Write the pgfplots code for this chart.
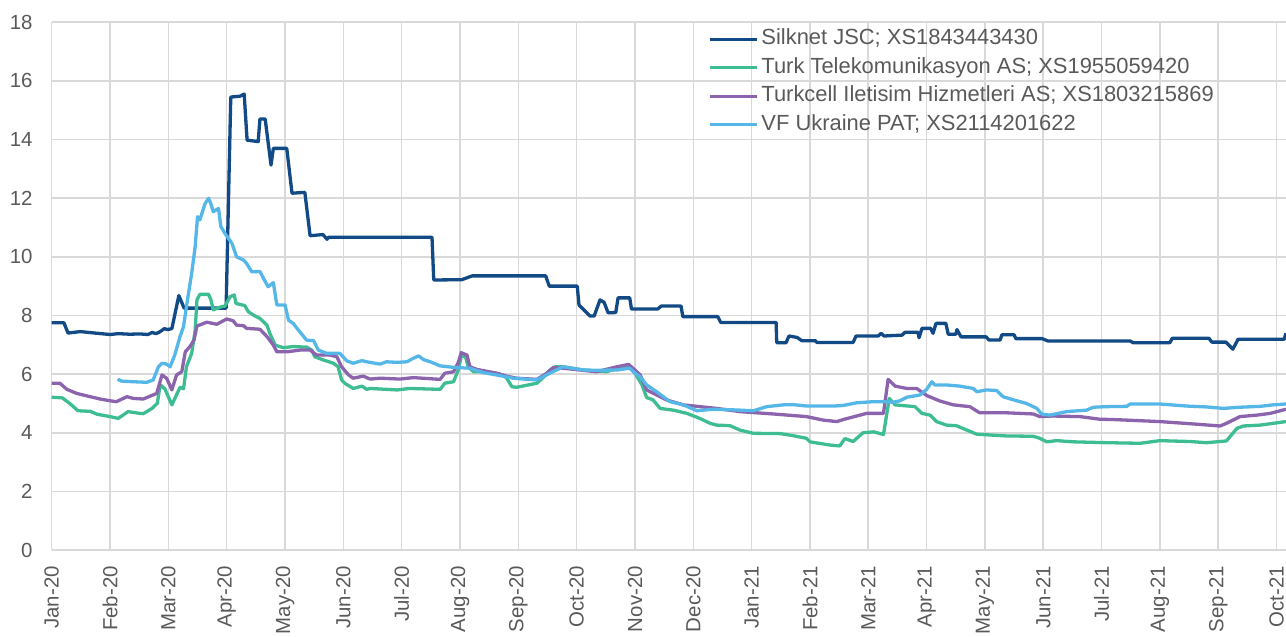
\documentclass[border=0pt]{standalone}
\usepackage{pgfplots}
\pgfplotsset{compat=1.18}
\usepackage{fontspec}
\setmainfont{Liberation Sans}
\definecolor{silk}{RGB}{18,74,134}
\definecolor{turk}{RGB}{62,189,147}
\definecolor{tcell}{RGB}{139,100,173}
\definecolor{vfu}{RGB}{85,183,232}
\definecolor{gridg}{RGB}{217,217,217}
\definecolor{txtg}{RGB}{89,89,89}
\begin{document}
\begin{tikzpicture}
\begin{axis}[
  scale only axis, width=1234.3bp, height=527.7bp,
  xmin=0, xmax=21.161, ymin=0, ymax=18,
  xtick={0,1,...,21},
  xticklabels={Jan-20,Feb-20,Mar-20,Apr-20,May-20,Jun-20,Jul-20,Aug-20,Sep-20,Oct-20,Nov-20,Dec-20,Jan-21,Feb-21,Mar-21,Apr-21,May-21,Jun-21,Jul-21,Aug-21,Sep-21,Oct-21},
  ytick={0,2,...,18},
  grid=major, major grid style={draw=gridg, line width=1.6bp},
  axis line style={draw=none}, major tick length=0pt,
  /pgf/number format/assume math mode=true,
  tick label style={font=\fontsize{20.5}{24}\selectfont, text=txtg},
  yticklabel style={anchor=east, inner xsep=19bp},
  xticklabel style={rotate=90, anchor=east, inner xsep=16bp},
  legend style={draw=none, fill=none, inner sep=0pt, at={(rel axis cs:0.5317,0.990)}, anchor=north west,
    font=\fontsize{22}{26}\selectfont, text=txtg,
    nodes={inner sep=2bp, text height=15bp, text depth=4bp}, row sep=5.5bp, column sep=1bp},
  legend cell align=left,
  legend image code/.code={\draw[#1] (0bp,0bp) -- (47bp,0bp);},
  every axis plot/.append style={line width=3.3bp, line join=round, no markers},
]
\addplot[silk] coordinates {
(0.00,7.75)(0.21,7.75)(0.28,7.40)(0.49,7.45)(0.74,7.40)(1.00,7.35)(1.14,7.38)(1.34,7.36)(1.51,7.37)(1.65,7.35)(1.72,7.42)(1.79,7.38)(1.86,7.45)(1.93,7.55)(1.99,7.52)(2.06,7.55)(2.18,8.68)(2.27,8.25)(2.99,8.25)(3.07,15.45)(3.23,15.48)(3.30,15.55)(3.35,13.98)(3.54,13.93)(3.57,14.70)(3.66,14.70)(3.76,13.13)(3.80,13.70)(4.03,13.70)(4.12,12.17)(4.34,12.20)(4.43,10.72)(4.65,10.76)(4.72,10.60)(4.75,10.67)(6.52,10.67)(6.55,9.21)(7.03,9.22)(7.21,9.35)(8.47,9.35)(8.53,9.00)(9.01,9.00)(9.04,8.36)(9.23,7.98)(9.30,7.98)(9.40,8.53)(9.47,8.45)(9.54,8.09)(9.67,8.10)(9.71,8.60)(9.91,8.60)(9.94,8.22)(10.39,8.22)(10.45,8.32)(10.79,8.32)(10.82,7.96)(11.42,7.96)(11.47,7.76)(12.42,7.76)(12.43,7.07)(12.59,7.07)(12.64,7.30)(12.78,7.25)(12.86,7.14)(13.09,7.14)(13.12,7.08)(13.74,7.08)(13.79,7.30)(14.17,7.30)(14.22,7.39)(14.27,7.30)(14.58,7.33)(14.63,7.43)(14.85,7.43)(14.87,7.24)(14.92,7.56)(15.07,7.56)(15.11,7.39)(15.16,7.73)(15.33,7.73)(15.37,7.36)(15.50,7.36)(15.52,7.52)(15.59,7.27)(16.02,7.27)(16.07,7.16)(16.26,7.16)(16.29,7.34)(16.50,7.34)(16.53,7.21)(16.98,7.21)(17.08,7.13)(18.49,7.13)(18.54,7.07)(19.17,7.07)(19.21,7.22)(19.84,7.22)(19.89,7.09)(20.13,7.09)(20.25,6.85)(20.34,7.19)(21.13,7.19)(21.16,7.39)
};
\addlegendentry{Silknet JSC; XS1843443430}
\addplot[turk] coordinates {
(0.00,5.21)(0.18,5.19)(0.31,5.00)(0.45,4.75)(0.66,4.73)(0.78,4.63)(1.00,4.55)(1.14,4.49)(1.31,4.72)(1.51,4.66)(1.57,4.65)(1.72,4.83)(1.81,5.00)(1.86,5.63)(1.94,5.50)(2.06,4.95)(2.14,5.29)(2.20,5.55)(2.26,5.50)(2.31,6.25)(2.40,6.71)(2.46,7.50)(2.49,8.53)(2.54,8.72)(2.69,8.72)(2.73,8.53)(2.77,8.19)(2.91,8.30)(2.97,8.32)(3.06,8.64)(3.13,8.70)(3.16,8.41)(3.26,8.36)(3.31,8.34)(3.37,8.13)(3.46,8.01)(3.57,7.90)(3.69,7.67)(3.74,7.39)(3.83,6.99)(3.97,6.90)(4.14,6.94)(4.37,6.92)(4.46,6.82)(4.51,6.59)(4.66,6.48)(4.83,6.37)(4.91,6.25)(4.97,5.80)(5.03,5.68)(5.17,5.51)(5.32,5.59)(5.40,5.48)(5.46,5.51)(5.92,5.46)(6.14,5.51)(6.66,5.48)(6.74,5.69)(6.89,5.74)(6.97,6.14)(7.02,6.59)(7.09,6.63)(7.14,6.25)(7.23,6.08)(7.46,6.08)(7.74,5.97)(7.80,5.86)(7.89,5.57)(7.97,5.55)(8.32,5.69)(8.43,5.89)(8.54,6.14)(8.63,6.25)(8.77,6.25)(9.11,6.14)(9.51,6.08)(9.74,6.22)(9.89,6.31)(9.97,6.14)(10.12,5.63)(10.20,5.20)(10.31,5.12)(10.43,4.83)(10.66,4.77)(10.89,4.66)(11.11,4.49)(11.29,4.32)(11.40,4.26)(11.63,4.24)(11.80,4.09)(12.03,3.98)(12.49,3.97)(12.71,3.90)(12.94,3.81)(13.00,3.69)(13.34,3.58)(13.51,3.55)(13.60,3.80)(13.74,3.70)(13.91,4.00)(14.09,4.03)(14.26,3.94)(14.36,5.17)(14.46,4.95)(14.80,4.89)(14.92,4.66)(15.06,4.60)(15.17,4.38)(15.34,4.26)(15.51,4.24)(15.69,4.09)(15.86,3.95)(16.03,3.93)(16.37,3.89)(16.83,3.88)(16.94,3.81)(17.06,3.69)(17.23,3.73)(17.51,3.69)(18.09,3.66)(18.66,3.64)(19.00,3.73)(19.52,3.70)(19.80,3.66)(20.14,3.72)(20.32,4.15)(20.43,4.23)(20.72,4.26)(21.16,4.38)
};
\addlegendentry{Turk Telekomunikasyon AS; XS1955059420}
\addplot[tcell] coordinates {
(0.00,5.69)(0.14,5.69)(0.26,5.48)(0.43,5.34)(0.66,5.23)(0.83,5.15)(1.00,5.09)(1.11,5.06)(1.29,5.23)(1.40,5.17)(1.57,5.15)(1.74,5.29)(1.80,5.34)(1.89,5.97)(1.97,5.86)(2.06,5.46)(2.14,5.97)(2.23,6.08)(2.29,6.76)(2.37,6.94)(2.44,7.16)(2.49,7.64)(2.66,7.77)(2.83,7.70)(3.00,7.88)(3.11,7.82)(3.17,7.67)(3.29,7.65)(3.34,7.56)(3.57,7.53)(3.69,7.28)(3.80,6.99)(3.86,6.76)(4.03,6.76)(4.26,6.82)(4.43,6.82)(4.54,6.65)(4.77,6.65)(4.89,6.59)(4.97,6.25)(5.09,5.97)(5.17,5.86)(5.34,5.93)(5.46,5.83)(5.63,5.86)(5.97,5.83)(6.20,5.88)(6.66,5.82)(6.74,6.03)(6.89,6.08)(6.97,6.39)(7.02,6.73)(7.12,6.65)(7.17,6.25)(7.29,6.16)(7.63,6.03)(7.80,5.93)(7.97,5.86)(8.32,5.82)(8.49,6.03)(8.60,6.22)(8.77,6.20)(9.34,6.08)(9.69,6.25)(9.89,6.33)(10.00,6.14)(10.09,5.97)(10.20,5.46)(10.37,5.29)(10.54,5.12)(10.83,4.95)(11.11,4.89)(11.40,4.83)(11.80,4.72)(12.37,4.64)(12.94,4.55)(13.23,4.43)(13.46,4.38)(13.57,4.45)(13.80,4.57)(13.97,4.66)(14.26,4.66)(14.34,5.82)(14.46,5.59)(14.66,5.51)(14.83,5.51)(15.00,5.27)(15.23,5.08)(15.46,4.95)(15.74,4.89)(15.91,4.68)(16.37,4.68)(16.83,4.64)(16.94,4.55)(17.17,4.57)(17.63,4.55)(17.97,4.46)(18.20,4.45)(18.66,4.41)(19.00,4.38)(19.57,4.30)(20.03,4.23)(20.14,4.32)(20.37,4.55)(20.66,4.60)(20.89,4.66)(21.16,4.80)
};
\addlegendentry{Turkcell Iletisim Hizmetleri AS; XS1803215869}
\addplot[vfu] coordinates {
(1.13,5.83)(1.20,5.76)(1.40,5.74)(1.63,5.72)(1.74,5.80)(1.83,6.25)(1.89,6.37)(1.97,6.34)(2.03,6.25)(2.11,6.65)(2.20,7.28)(2.26,7.62)(2.31,8.30)(2.40,9.44)(2.46,10.35)(2.50,11.37)(2.54,11.26)(2.63,11.82)(2.69,12.00)(2.73,11.80)(2.77,11.54)(2.86,11.65)(2.90,11.03)(2.97,10.80)(3.03,10.63)(3.09,10.46)(3.17,10.00)(3.29,9.89)(3.34,9.78)(3.43,9.49)(3.57,9.50)(3.63,9.27)(3.71,8.98)(3.80,9.12)(3.86,8.36)(4.00,8.36)(4.06,7.84)(4.14,7.73)(4.23,7.50)(4.37,7.16)(4.49,7.14)(4.57,6.82)(4.71,6.71)(4.94,6.71)(5.06,6.45)(5.17,6.37)(5.32,6.46)(5.40,6.42)(5.63,6.34)(5.74,6.42)(5.92,6.40)(6.09,6.42)(6.20,6.54)(6.29,6.62)(6.37,6.50)(6.49,6.42)(6.66,6.28)(6.89,6.23)(7.17,6.20)(7.40,6.05)(7.63,5.97)(7.91,5.86)(8.32,5.80)(8.54,6.03)(8.77,6.25)(9.11,6.14)(9.34,6.13)(9.69,6.14)(9.91,6.20)(10.00,6.03)(10.09,5.91)(10.20,5.63)(10.37,5.40)(10.60,5.06)(10.83,4.95)(11.06,4.75)(11.34,4.80)(11.69,4.78)(12.03,4.75)(12.26,4.89)(12.54,4.95)(12.71,4.96)(12.94,4.91)(13.40,4.91)(13.57,4.93)(13.80,5.02)(14.09,5.06)(14.26,5.06)(14.43,5.04)(14.54,5.09)(14.66,5.21)(14.89,5.29)(15.00,5.48)(15.09,5.74)(15.14,5.63)(15.34,5.63)(15.57,5.59)(15.80,5.51)(15.86,5.40)(16.03,5.46)(16.20,5.44)(16.31,5.23)(16.49,5.12)(16.71,5.00)(16.89,4.83)(16.97,4.64)(17.11,4.60)(17.40,4.72)(17.74,4.77)(17.86,4.87)(18.09,4.89)(18.43,4.90)(18.49,4.98)(19.00,4.98)(19.46,4.91)(19.80,4.88)(20.09,4.83)(20.37,4.87)(20.72,4.90)(20.94,4.95)(21.16,4.98)
};
\addlegendentry{VF Ukraine PAT; XS2114201622}
\end{axis}
\pgfresetboundingbox
\path[use as bounding box] (-51.7bp,-87bp) rectangle (1234.3bp,550bp);
\end{tikzpicture}
\end{document}
